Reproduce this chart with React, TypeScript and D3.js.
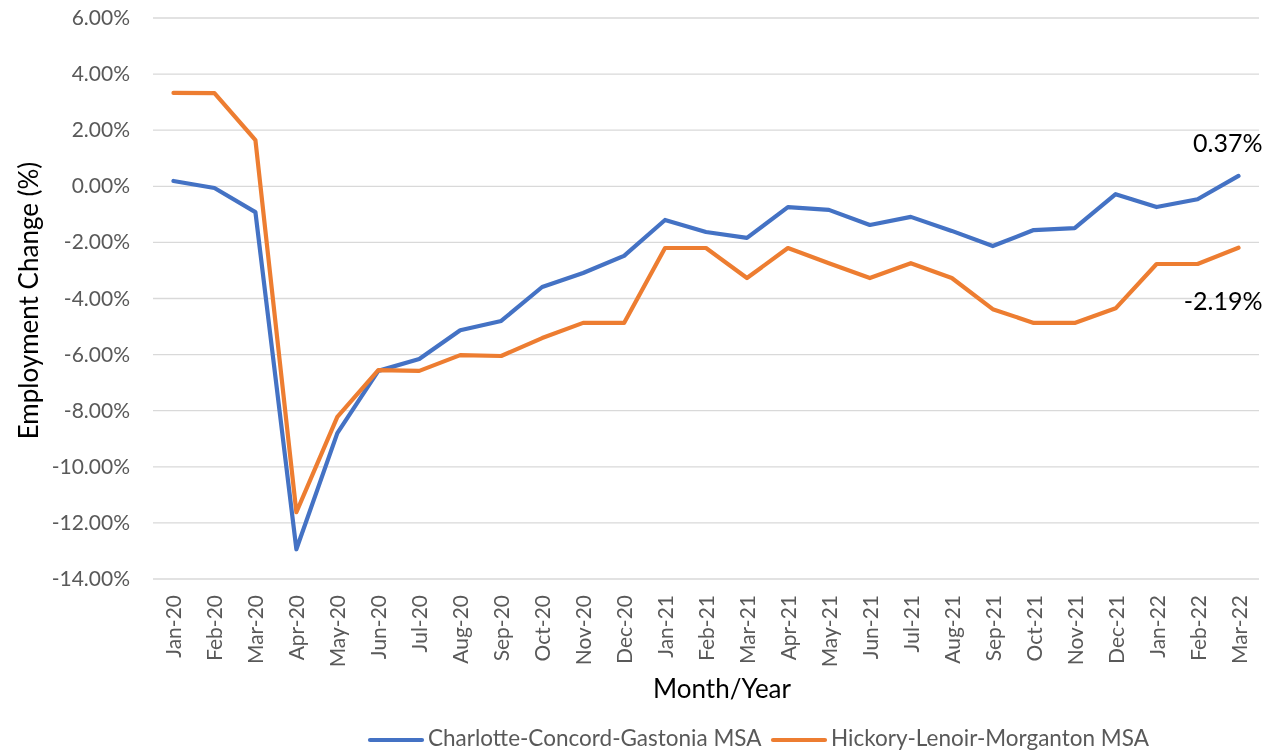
import { useEffect, useRef } from 'react';
import * as d3 from 'd3';

const months = [
  'Jan-20', 'Feb-20', 'Mar-20', 'Apr-20', 'May-20', 'Jun-20', 'Jul-20', 'Aug-20', 'Sep-20',
  'Oct-20', 'Nov-20', 'Dec-20', 'Jan-21', 'Feb-21', 'Mar-21', 'Apr-21', 'May-21', 'Jun-21',
  'Jul-21', 'Aug-21', 'Sep-21', 'Oct-21', 'Nov-21', 'Dec-21', 'Jan-22', 'Feb-22', 'Mar-22',
];

const charlotte = [
  0.19, -0.06, -0.92, -12.94, -8.8, -6.58, -6.16, -5.13, -4.8, -3.59, -3.09, -2.48, -1.2,
  -1.63, -1.84, -0.74, -0.84, -1.38, -1.09, -1.59, -2.13, -1.56, -1.49, -0.28, -0.74, -0.46, 0.37,
];

const hickory = [
  3.33, 3.32, 1.65, -11.62, -8.22, -6.55, -6.58, -6.02, -6.05, -5.41, -4.87, -4.87, -2.2,
  -2.2, -3.27, -2.2, -2.74, -3.27, -2.74, -3.27, -4.38, -4.87, -4.87, -4.35, -2.77, -2.77, -2.19,
];

const yTicks = [6, 4, 2, 0, -2, -4, -6, -8, -10, -12, -14];

const seriesNames = ['Charlotte-Concord-Gastonia MSA', 'Hickory-Lenoir-Morganton MSA'];
const colors = ['#4472C4', '#ED7D31'];

function App() {
  const ref = useRef<HTMLDivElement>(null);

  useEffect(() => {
    const root = d3.select(ref.current);
    root.selectAll('*').remove();
    const svg = root.append('svg').attr('width', 1288).attr('height', 751)
      .style('display', 'block')
      .style('font-family', 'Lato, sans-serif');

    const left = 153, right = 1259, top = 18, bottom = 579;

    const x = d3.scaleBand().domain(months).range([left, right]);
    const y = d3.scaleLinear().domain([-14, 6]).range([bottom, top]);
    const cx = (m: string) => (x(m) as number) + x.bandwidth() / 2;

    // grid
    svg.append('g').selectAll('line').data(yTicks).enter().append('line')
      .attr('x1', left).attr('x2', right)
      .attr('y1', (d) => y(d)).attr('y2', (d) => y(d))
      .attr('stroke', '#d9d9d9').attr('stroke-width', 1.3);

    // y labels
    svg.append('g').selectAll('text').data(yTicks).enter().append('text')
      .attr('x', 130).attr('y', (d) => y(d) + 7)
      .attr('text-anchor', 'end')
      .attr('font-size', 21).attr('fill', '#595959')
      .text((d) => d.toFixed(2) + '%');

    // x labels
    svg.append('g').selectAll('text').data(months).enter().append('text')
      .attr('transform', (d) => `translate(${cx(d) + 8},${bottom + 16}) rotate(-90)`)
      .attr('text-anchor', 'end')
      .attr('font-size', 21).attr('fill', '#595959')
      .text((d) => d);

    const line = d3.line<number>()
      .x((_, i) => cx(months[i]))
      .y((d) => y(d));

    [charlotte, hickory].forEach((s, i) => {
      svg.append('path').datum(s)
        .attr('d', line)
        .attr('fill', 'none')
        .attr('stroke', colors[i])
        .attr('stroke-width', 4.2)
        .attr('stroke-linejoin', 'round')
        .attr('stroke-linecap', 'round');
    });

    // end labels
    const last = months.length - 1;
    svg.append('text')
      .attr('x', cx(months[last]) + 24).attr('y', y(charlotte[last]) - 24)
      .attr('text-anchor', 'end').attr('font-size', 25).attr('fill', '#000')
      .text(charlotte[last].toFixed(2) + '%');
    svg.append('text')
      .attr('x', cx(months[last]) + 24).attr('y', y(hickory[last]) + 62)
      .attr('text-anchor', 'end').attr('font-size', 25).attr('fill', '#000')
      .text(hickory[last].toFixed(2) + '%');

    // axis titles
    svg.append('text')
      .attr('transform', `translate(38,${(top + bottom) / 2 + 2}) rotate(-90)`)
      .attr('text-anchor', 'middle').attr('font-size', 26).attr('fill', '#000')
      .text('Employment Change (%)');
    svg.append('text')
      .attr('x', 722).attr('y', 698)
      .attr('text-anchor', 'middle').attr('font-size', 26).attr('fill', '#000')
      .text('Month/Year');

    // legend
    const legendX = [369, 772];
    seriesNames.forEach((n, i) => {
      const g = svg.append('g').attr('transform', `translate(${legendX[i]},740)`);
      g.append('line').attr('x1', 1).attr('x2', 53).attr('y1', 0).attr('y2', 0)
        .attr('stroke', colors[i]).attr('stroke-width', 4.2).attr('stroke-linecap', 'round');
      g.append('text').attr('x', 59).attr('y', 6)
        .attr('font-size', 22.5).attr('fill', '#595959').text(n);
    });
  }, []);

  return <div ref={ref} style={{ position: 'fixed', top: 0, left: 0, width: 1288, height: 751, overflow: 'hidden' }}></div>;
}

export default App;
